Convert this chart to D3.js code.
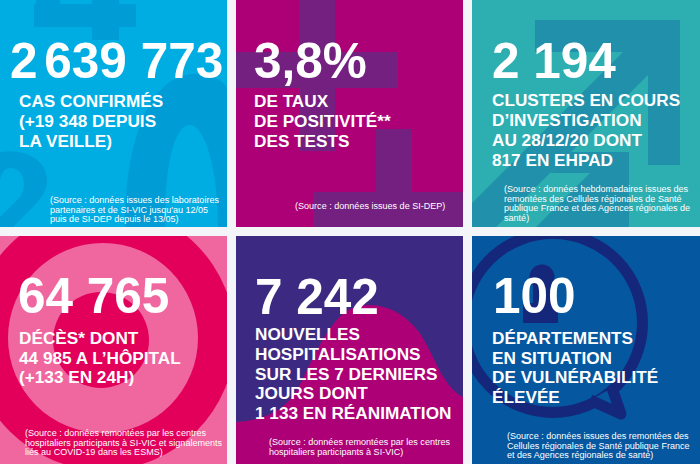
<!DOCTYPE html>
<html>
<head>
<meta charset="UTF-8">
<title>Chiffres clés</title>
<script src="https://cdnjs.cloudflare.com/ajax/libs/d3/7.8.5/d3.min.js"></script>
<style>
html, body { margin: 0; padding: 0; background: #f4f5f8; }
svg { display: block; font-family: "Liberation Sans", Arial, sans-serif; }
</style>
</head>
<body>
<div id="chart"></div>
<script>
// values
var numbers = ["2 639 773", "3,8%", "2 194", "64 765", "7 242", "100"];
var labels = [
  ["CAS CONFIRMÉS", "(+19 348 DEPUIS", "LA VEILLE)"],
  ["DE TAUX", "DE POSITIVITÉ**", "DES TESTS"],
  ["CLUSTERS EN COURS", "D’INVESTIGATION", "AU 28/12/20 DONT", "817 EN EHPAD"],
  ["DÉCÈS* DONT", "44 985 A L’HÔPITAL", "(+133 EN 24H)"],
  ["NOUVELLES", "HOSPITALISATIONS", "SUR LES 7 DERNIERS", "JOURS DONT", "1 133 EN RÉANIMATION"],
  ["DÉPARTEMENTS", "EN SITUATION", "DE VULNÉRABILITÉ", "ÉLEVÉE"]
];
var sources = [
  ["(Source : données issues des laboratoires", "partenaires et de SI-VIC jusqu'au 12/05", "puis de SI-DEP depuis le 13/05)"],
  ["(Source : données issues de SI-DEP)"],
  ["(Source : données hebdomadaires issues des", "remontées des Cellules régionales de Santé", "publique France et des Agences régionales de", "santé)"],
  ["(Source : données remontées par les centres", "hospitaliers participants à SI-VIC et signalements", "liés au COVID-19 dans les ESMS)"],
  ["(Source : données remontées par les centres", "hospitaliers participants à SI-VIC)"],
  ["(Source : données issues des remontées des", "Cellules régionales de Santé publique France", "et des Agences régionales de santé)"]
];

// layout of the six tiles
var w = 700, h = 464;
var tileX = [0, 236, 472], tileY = [0, 236];
var tileW = [227, 227, 228], tileH = [227, 228];
var bg = ["#00ade3", "#ae0076", "#2daeb1", "#f0679f", "#3c2a82", "#05579f"];
var deco = ["#009cd6", "#742080", "#2190aa", "#e2005a", "#ae0076", "#15277b"];
var numPos = [[10, 78], [254, 78], [492, 78], [18, 313], [255, 314], [493, 313]];
var labelPos = [[19, 107], [254, 107], [492, 106], [19, 344], [255, 340], [492, 344]];
var labelStep = [20, 20, 20, 19.5, 19.8, 19.5];
var sourcePos = [[50, 203], [295, 209], [504, 192], [25, 436], [269, 445], [507, 439]];

// background shapes, one function per tile
function poly(art, pts) {
  art.append("polygon").attr("points", pts.map(p => p.join(",")).join(" "));
}
function rect(art, x0, y0, x1, y1) {
  art.append("rect").attr("x", x0).attr("y", y0).attr("width", x1 - x0).attr("height", y1 - y0);
}
function circle(art, cx, cy, r, fill) {
  var c = art.append("circle").attr("cx", cx).attr("cy", cy).attr("r", r);
  if (fill) c.style("fill", fill);
  return c;
}

var drawDeco = [
  function(art) {
    rect(art, 34, 4, 136, 27);
    rect(art, 36, 0, 60, 4);
    rect(art, 92, 0, 119, 40);
    // "n" on the right
    art.append("path").attr("d", "M125,227 C125,140 150,74 195,74 C212,74 227,82 227,90 L227,227 L218,227 C218,170 205,125 190,125 C178,125 165,150 165,227 Z");
    // "2" on the left
    art.append("path").attr("d", "M0,152 C25,148 47,160 47,180 C47,195 35,205 22,218 L13,227 L0,227 L0,217 L20,197 C27,188 25,168 10,168 C5,168 2,172 0,180 Z");
  },
  function(art) {
    rect(art, 299, 0, 335, 151);
    rect(art, 236, 52, 398, 88);
    rect(art, 376, 129, 412, 192);
    rect(art, 313, 192, 463, 227);
  },
  function(art) {
    poly(art, [[535, 20], [680, 20], [680, 165], [648, 165], [648, 75], [496, 227], [472, 227], [472, 203], [623, 52], [535, 52]]);
    poly(art, [[571, 152], [629, 152], [629, 227], [536, 227], [590, 173], [550, 173]]);
  },
  function(art) {
    circle(art, 103, 338, 132);
    circle(art, 103, 338, 95, bg[3]);
    circle(art, 101, 340, 48);
  },
  function(art) {
    art.append("path").attr("d", "M236,422 C265,420 285,410 297,390 C310,365 320,340 335,322 C345,310 355,305 368,305 C392,305 408,318 419,332 C430,348 438,370 445,379 C450,388 457,394 463,397 L463,464 L236,464 Z");
  },
  function(art) {
    circle(art, 553, 323, 89.5)
      .style("fill", "none")
      .style("stroke", deco[5])
      .style("stroke-width", 11);
    // bubble tail, filled with the tile colour to open the ring
    art.append("path")
      .attr("d", "M612,388 L621,414 L590,400")
      .style("fill", bg[5])
      .style("stroke", deco[5])
      .style("stroke-width", 11)
      .style("stroke-linejoin", "round");
    // the "i"
    circle(art, 542, 277, 12.5);
    rect(art, 533, 285, 555, 303);
    rect(art, 523, 303, 558, 323);
  }
];

var svg = d3.select("#chart").append("svg")
  .attr("width", w)
  .attr("height", h);

var defs = svg.append("defs");

var tiles = svg.selectAll(".tile")
  .data(numbers)
  .enter()
  .append("g")
  .attr("class", "tile");

tiles.each(function(d, i) {
  var x = tileX[i % 3], y = tileY[Math.floor(i / 3)];
  var tw = tileW[i % 3], th = tileH[Math.floor(i / 3)];
  defs.append("clipPath").attr("id", "clip" + i)
    .append("rect").attr("x", x).attr("y", y).attr("width", tw).attr("height", th);
  var g = d3.select(this);
  g.append("rect")
    .attr("x", x).attr("y", y)
    .attr("width", tw).attr("height", th)
    .style("fill", bg[i]);
  var art = g.append("g").attr("clip-path", "url(#clip" + i + ")").style("fill", deco[i]);
  drawDeco[i](art);
});

// texts go on top of the background shapes
// the first gap of the big number is tighter on the first tile
tiles.append("text")
  .attr("x", (d, i) => numPos[i][0])
  .attr("y", (d, i) => numPos[i][1])
  .attr("dx", (d, i) => i == 0 ? "0 -7" : null)
  .style("font-size", "49.5px")
  .style("font-weight", "bold")
  .style("fill", "#fff")
  .text(d => d);

tiles.each(function(d, i) {
  var g = d3.select(this);
  g.selectAll(".label")
    .data(labels[i])
    .enter()
    .append("text")
    .attr("class", "label")
    .attr("x", labelPos[i][0])
    .attr("y", (t, k) => labelPos[i][1] + k * labelStep[i])
    .style("font-size", "17.2px")
    .style("font-weight", "bold")
    .style("fill", "#fff")
    .text(t => t);
  g.selectAll(".source")
    .data(sources[i])
    .enter()
    .append("text")
    .attr("class", "source")
    .attr("x", sourcePos[i][0])
    .attr("y", (t, k) => sourcePos[i][1] + k * 9.7)
    .style("font-size", "9.05px")
    .style("fill", "#fff")
    .text(t => t);
});
</script>
</body>
</html>
